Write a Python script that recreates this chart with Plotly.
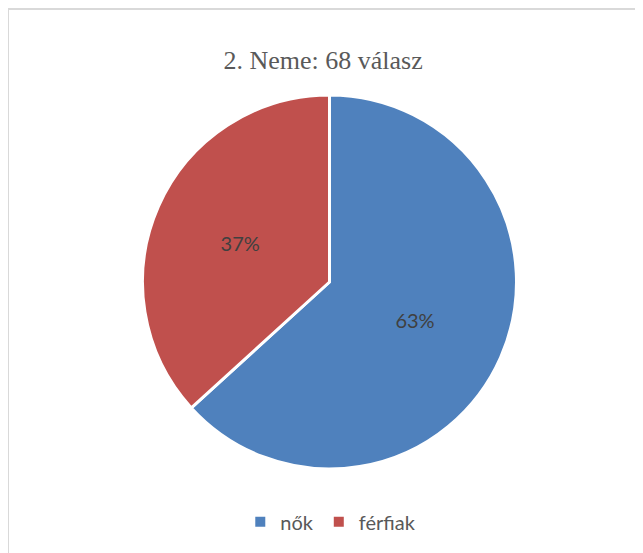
import plotly.graph_objects as go

labels = ["nők", "férfiak"]
values = [43, 25]
colors = ["#4F81BD", "#C0504D"]
title_text = "2. Neme: 68 válasz"

fig = go.Figure(go.Pie(
    labels=labels,
    values=values,
    sort=False,
    direction="clockwise",
    rotation=0,
    marker=dict(colors=colors, line=dict(color="white", width=3)),
    textinfo="percent",
    texttemplate="%{percent:.0%}",
    textposition="inside",
    insidetextorientation="horizontal",
    textfont=dict(family="Lato, Carlito, sans-serif", size=20, color="#404040"),
    domain=dict(x=[0.2, 0.8], y=[0.1667, 0.8442]),
    hoverinfo="label+percent",
))

fig.update_layout(
    width=643, height=553,
    margin=dict(l=0, r=0, t=1, b=0),
    paper_bgcolor="white",
    plot_bgcolor="white",
    title=dict(text=title_text, x=0.49, xanchor="center", y=0.906, yanchor="middle",
               font=dict(family="Liberation Serif, Times New Roman, serif", size=26, color="#595959")),
    showlegend=True,
    legend=dict(orientation="h", x=0.502, xanchor="center", y=0.071, yanchor="middle",
                font=dict(family="Lato, Carlito, sans-serif", size=20, color="#595959"),
                itemsizing="constant", traceorder="normal"),
    shapes=[dict(type="rect", xref="paper", yref="paper", x0=0, x1=1.2, y0=-0.2, y1=1,
                 line=dict(color="#D9D9D9", width=2), fillcolor="rgba(0,0,0,0)", layer="below")],
)

fig.write_html("out.html")
